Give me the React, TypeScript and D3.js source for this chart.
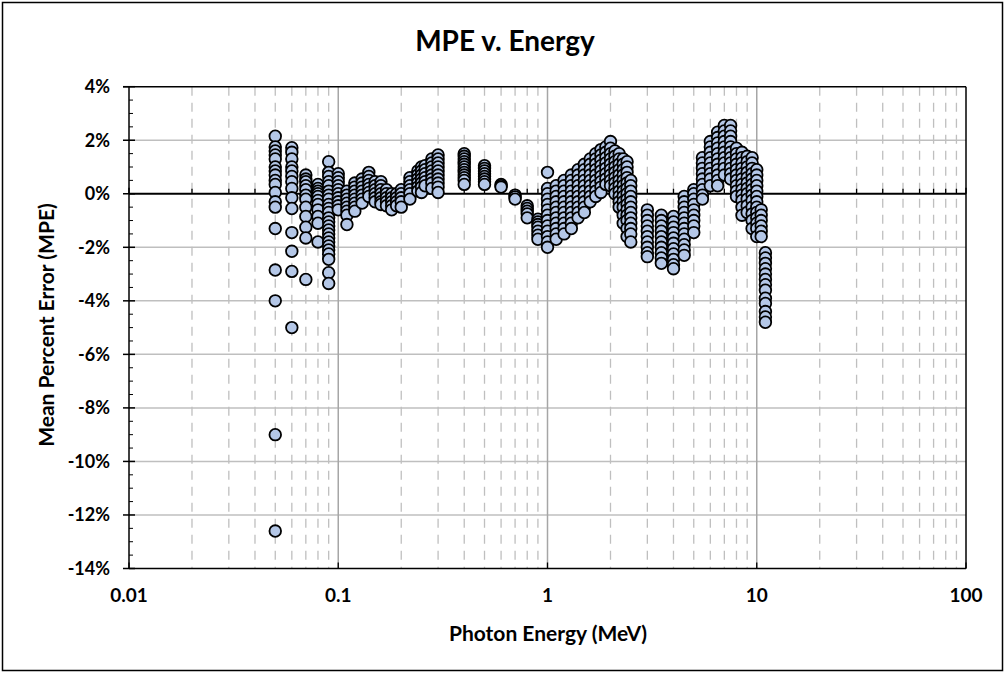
import React from "react";
import * as d3 from "d3";

const W = 1007;
const H = 675;

// Photon energies (MeV) with the mean percent error values (%) observed at each
const energiesMeV = [
  0.05, 0.06, 0.07, 0.08, 0.09, 0.1, 0.11, 0.12, 0.13, 0.14, 0.15, 0.16, 0.17, 0.18, 0.19, 0.2,
  0.22, 0.24, 0.25, 0.26, 0.28, 0.3, 0.4, 0.5, 0.6, 0.7, 0.8, 0.9,
  1.0, 1.1, 1.2, 1.3, 1.4, 1.5, 1.6, 1.7, 1.8, 1.9, 2.0, 2.1, 2.2, 2.3, 2.4, 2.5,
  3.0, 3.5, 4.0, 4.5, 5.0, 5.5, 6.0, 6.5, 7.0, 7.5, 8.0, 8.5, 9.0, 9.5, 10.0, 10.5, 11.0,
];

const mpeByEnergy: number[][] = [
  [2.15, 1.75, 1.6, 1.45, 1.3, 1.0, 0.85, 0.7, 0.5, 0.35, 0.05, -0.3, -0.5, -1.3, -2.85, -4.0, -9.0, -12.6],
  [1.72, 1.55, 1.3, 1.0, 0.85, 0.65, 0.45, 0.2, -0.15, -0.55, -1.45, -2.15, -2.9, -5.0],
  [0.7, 0.55, 0.45, 0.3, 0.15, -0.05, -0.2, -0.5, -0.85, -1.25, -1.65, -3.2],
  [0.35, 0.2, 0.1, 0.0, -0.1, -0.25, -0.4, -0.6, -0.85, -1.1, -1.8],
  [1.2, 0.8, 0.65, 0.45, 0.3, 0.1, -0.05, -0.2, -0.4, -0.55, -0.7, -0.9, -1.05, -1.2, -1.35, -1.5, -1.65, -1.8, -1.95, -2.1, -2.25, -2.45, -2.95, -3.35],
  [0.75, 0.6, 0.45, 0.3, 0.15, 0.0, -0.15, -0.3, -0.45, -0.6],
  [0.1, -0.05, -0.2, -0.35, -0.5, -0.65, -0.8, -1.15],
  [0.4, 0.25, 0.1, -0.05, -0.2, -0.35, -0.5, -0.65],
  [0.55, 0.4, 0.25, 0.1, -0.05, -0.2, -0.35],
  [0.8, 0.65, 0.5, 0.35, 0.2, 0.05, -0.1],
  [0.45, 0.3, 0.15, 0.0, -0.15, -0.3],
  [0.45, 0.3, 0.15, 0.0, -0.15, -0.3, -0.4],
  [0.15, 0.0, -0.15, -0.3, -0.45],
  [0.0, -0.15, -0.3, -0.45, -0.6],
  [0.0, -0.15, -0.3, -0.45],
  [0.15, 0.0, -0.15, -0.3, -0.5],
  [0.6, 0.45, 0.3, 0.15, 0.0, -0.2],
  [0.85, 0.7, 0.55, 0.4, 0.25, 0.1],
  [1.0, 0.85, 0.7, 0.55, 0.4, 0.25, 0.05],
  [1.05, 0.9, 0.75, 0.6, 0.45, 0.3],
  [1.3, 1.15, 1.0, 0.85, 0.7, 0.55, 0.4, 0.2],
  [1.45, 1.3, 1.15, 1.0, 0.85, 0.7, 0.55, 0.4, 0.25, 0.05],
  [1.5, 1.4, 1.3, 1.2, 1.1, 1.0, 0.9, 0.8, 0.7, 0.6, 0.5, 0.35],
  [1.05, 0.95, 0.85, 0.75, 0.65, 0.55, 0.45, 0.35],
  [0.35, 0.3, 0.25],
  [-0.05, -0.12, -0.2],
  [-0.45, -0.55, -0.65, -0.75, -0.9],
  [-0.95, -1.05, -1.15, -1.25, -1.4, -1.55, -1.7],
  [0.8, 0.2, 0.0, -0.2, -0.4, -0.6, -0.8, -1.0, -1.2, -1.4, -1.6, -1.8, -2.0],
  [0.3, 0.1, -0.1, -0.3, -0.5, -0.7, -0.9, -1.1, -1.3, -1.5, -1.7],
  [0.5, 0.3, 0.1, -0.1, -0.3, -0.5, -0.7, -0.9, -1.1, -1.3, -1.5],
  [0.7, 0.5, 0.3, 0.1, -0.1, -0.3, -0.5, -0.7, -0.9, -1.1, -1.3],
  [0.9, 0.7, 0.5, 0.3, 0.1, -0.1, -0.3, -0.5, -0.7, -0.9],
  [1.1, 0.9, 0.7, 0.5, 0.3, 0.1, -0.1, -0.3, -0.5, -0.7],
  [1.3, 1.1, 0.9, 0.7, 0.5, 0.3, 0.1, -0.1, -0.3],
  [1.5, 1.3, 1.1, 0.9, 0.7, 0.5, 0.3, 0.1, -0.1],
  [1.65, 1.45, 1.25, 1.05, 0.85, 0.65, 0.45, 0.25, 0.05],
  [1.75, 1.55, 1.35, 1.15, 0.95, 0.75, 0.55, 0.35],
  [1.95, 1.7, 1.5, 1.3, 1.1, 0.9, 0.7, 0.5, 0.3],
  [1.6, 1.4, 1.2, 1.0, 0.8, 0.6, 0.4, 0.2, 0.0],
  [1.5, 1.3, 1.1, 0.9, 0.7, 0.5, 0.3, 0.1, -0.1, -0.3, -0.5],
  [1.3, 1.1, 0.9, 0.7, 0.5, 0.3, 0.1, -0.1, -0.3, -0.5, -0.8, -1.1],
  [1.2, 1.0, 0.8, 0.6, 0.4, 0.2, 0.0, -0.2, -0.4, -0.6, -0.8, -1.0, -1.3, -1.6],
  [0.5, 0.3, 0.1, -0.1, -0.3, -0.5, -0.7, -0.9, -1.1, -1.3, -1.5, -1.8],
  [-0.6, -0.8, -1.0, -1.2, -1.4, -1.6, -1.8, -2.0, -2.2, -2.35],
  [-0.8, -1.0, -1.2, -1.4, -1.6, -1.8, -2.0, -2.2, -2.4, -2.6],
  [-0.85, -1.05, -1.25, -1.45, -1.65, -1.85, -2.05, -2.25, -2.45, -2.65, -2.8],
  [-0.1, -0.3, -0.5, -0.7, -0.9, -1.1, -1.3, -1.5, -1.7, -1.9, -2.1, -2.3],
  [0.15, 0.0, -0.2, -0.4, -0.6, -0.8, -1.0, -1.2, -1.45],
  [1.35, 1.15, 0.95, 0.75, 0.55, 0.35, 0.15, -0.05, -0.2],
  [1.95, 1.75, 1.55, 1.35, 1.15, 0.95, 0.75, 0.55, 0.3],
  [2.3, 2.1, 1.9, 1.7, 1.5, 1.3, 1.1, 0.9, 0.7, 0.5, 0.3],
  [2.55, 2.35, 2.15, 1.95, 1.75, 1.55, 1.35, 1.15, 0.95, 0.7],
  [2.55, 2.35, 2.15, 1.95, 1.75, 1.55, 1.35, 1.15, 0.95, 0.75, 0.55],
  [1.7, 1.5, 1.3, 1.1, 0.9, 0.7, 0.5, 0.3, 0.1, -0.1],
  [1.55, 1.35, 1.15, 0.95, 0.75, 0.55, 0.35, 0.15, -0.05, -0.25, -0.5, -0.8],
  [1.4, 1.2, 1.0, 0.8, 0.6, 0.4, 0.2, 0.0, -0.2, -0.45, -0.7],
  [1.35, 1.15, 0.95, 0.75, 0.55, 0.35, 0.15, -0.05, -0.25, -0.5, -0.75, -1.0, -1.3],
  [0.9, 0.7, 0.5, 0.3, 0.1, -0.1, -0.3, -0.5, -0.7, -0.9, -1.1, -1.3, -1.6],
  [-0.6, -0.8, -1.0, -1.2, -1.4, -1.6],
  [-2.2, -2.4, -2.6, -2.8, -3.0, -3.2, -3.4, -3.6, -3.9, -4.1, -4.4, -4.6, -4.8],
];

const xMajorTicks = [0.01, 0.1, 1, 10, 100];
const xTickLabels = ["0.01", "0.1", "1", "10", "100"];
const yMajorTicks = [4, 2, 0, -2, -4, -6, -8, -10, -12, -14];
const yTickLabels = ["4%", "2%", "0%", "-2%", "-4%", "-6%", "-8%", "-10%", "-12%", "-14%"];

const FONT = "Lato, 'Open Sans', sans-serif";

export default function App() {
  const left = 129, right = 966, top = 86.7, bottom = 568.5;
  const x = d3.scaleLog().domain([0.01, 100]).range([left, right]);
  const y = d3.scaleLinear().domain([-14, 4]).range([bottom, top]);

  const minorX: number[] = [];
  [0.01, 0.1, 1, 10].forEach((d) => {
    for (let k = 2; k <= 9; k++) minorX.push(d * k);
  });
  const minorY: number[] = d3.range(-14, 4.001, 0.5).filter((v) => Math.abs(v % 2) > 1e-6);

  const points: { e: number; v: number }[] = [];
  energiesMeV.forEach((e, i) => mpeByEnergy[i].forEach((v) => points.push({ e, v })));

  const y0 = y(0);

  return (
    <svg width={W} height={H} style={{ position: "absolute", left: 0, top: 0, background: "#fff" }}>
      <rect x={2.5} y={2.5} width={1000} height={668} fill="#fff" stroke="#000" strokeWidth={1.5} />
      <text x={505} y={51} textAnchor="middle" fontFamily={FONT} fontWeight="bold" fontSize={28} fill="#000">
        MPE v. Energy
      </text>

      {minorX.map((d, i) => (
        <line key={"mx" + i} x1={x(d)} x2={x(d)} y1={top} y2={bottom} stroke="#bfbfbf" strokeWidth={1.3} strokeDasharray="9,7" />
      ))}
      {yMajorTicks.filter((v) => v !== 0 && v !== 4 && v !== -14).map((v) => (
        <line key={"hy" + v} x1={left} x2={right} y1={y(v)} y2={y(v)} stroke="#bfbfbf" strokeWidth={1.5} />
      ))}
      {xMajorTicks.slice(1, -1).map((d) => (
        <line key={"vx" + d} x1={x(d)} x2={x(d)} y1={top} y2={bottom} stroke="#a6a6a6" strokeWidth={1.5} />
      ))}

      <line x1={left - 6} x2={right} y1={top} y2={top} stroke="#000" strokeWidth={1.5} />
      <line x1={right} x2={right} y1={top} y2={bottom} stroke="#000" strokeWidth={1.5} />
      <line x1={left} x2={right} y1={bottom} y2={bottom} stroke="#000" strokeWidth={1.5} />

      <line x1={left} x2={left} y1={top} y2={bottom} stroke="#000" strokeWidth={1.5} />
      {yMajorTicks.map((v) => (
        <line key={"yt" + v} x1={left - 6} x2={left + 6} y1={y(v)} y2={y(v)} stroke="#000" strokeWidth={1.5} />
      ))}
      {minorY.map((v, i) => (
        <line key={"ymt" + i} x1={left} x2={left + 4} y1={y(v)} y2={y(v)} stroke="#000" strokeWidth={1} />
      ))}
      {yMajorTicks.map((v, i) => (
        <text key={"yl" + v} x={110} y={y(v) + 6.5} textAnchor="end" fontFamily={FONT} fontWeight="bold" fontSize={18} fill="#000">
          {yTickLabels[i]}
        </text>
      ))}

      <line x1={left} x2={right} y1={y0} y2={y0} stroke="#000" strokeWidth={2} />
      {xMajorTicks.map((d) => (
        <line key={"xt" + d} x1={x(d)} x2={x(d)} y1={y0 - 6} y2={y0} stroke="#000" strokeWidth={1.5} />
      ))}
      {minorX.map((d, i) => (
        <line key={"xmt" + i} x1={x(d)} x2={x(d)} y1={y0 - 5} y2={y0} stroke="#000" strokeWidth={1.3} />
      ))}
      {xMajorTicks.map((d) => (
        <line key={"xbt" + d} x1={x(d)} x2={x(d)} y1={bottom - 6} y2={bottom} stroke="#000" strokeWidth={1.3} />
      ))}
      {xMajorTicks.map((d, i) => (
        <text key={"xl" + d} x={x(d)} y={602} textAnchor="middle" fontFamily={FONT} fontWeight="bold" fontSize={19} fill="#000">
          {xTickLabels[i]}
        </text>
      ))}

      {points.map((p, i) => (
        <circle key={"p" + i} cx={x(p.e)} cy={y(p.v)} r={5.8} fill="#b4c7e7" stroke="#000" strokeWidth={1.8} />
      ))}

      <text x={548} y={641} textAnchor="middle" fontFamily={FONT} fontWeight="bold" fontSize={21} fill="#000">
        Photon Energy (MeV)
      </text>
      <text transform={`translate(54, 325) rotate(-90)`} textAnchor="middle" fontFamily={FONT} fontWeight="bold" fontSize={21} fill="#000">
        Mean Percent Error (MPE)
      </text>
    </svg>
  );
}
